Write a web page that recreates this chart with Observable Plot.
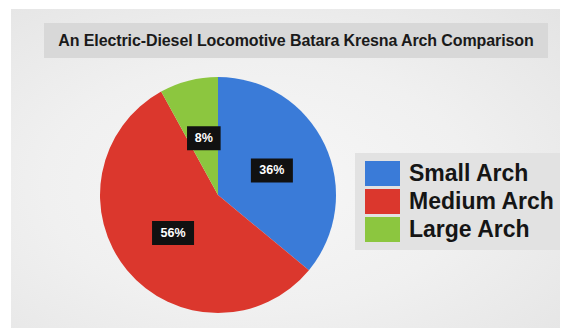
<!DOCTYPE html>
<html>
<head>
<meta charset="utf-8">
<script src="https://cdn.jsdelivr.net/npm/d3@7"></script>
<script src="https://cdn.jsdelivr.net/npm/@observablehq/plot@0.6"></script>
<style>
  html, body { margin: 0; padding: 0; background: #ffffff; }
  #frame { position: relative; width: 566px; height: 328px; overflow: hidden; background: #fff; font-family: "Liberation Sans", Arial, sans-serif; }
  #panel { position: absolute; left: 11px; top: 9px; width: 549px; height: 319px;
    background: radial-gradient(ellipse at 45% 55%, #f7f7f7 0%, #f0f0f0 50%, #e4e4e4 100%); }
  #title { position: absolute; left: 44px; top: 23px; width: 504px; height: 35px; background: #d8d8d8;
    display: flex; align-items: center; justify-content: center; font-weight: bold; font-size: 16px; color: #1a1a1a; white-space: nowrap; letter-spacing: -0.1px; }
  #legend { position: absolute; left: 355px; top: 153px; width: 205px; height: 97px; background: #e2e2e2; }
  .item { position: absolute; left: 10px; height: 25px; display: flex; align-items: center; }
  .sw { width: 35px; height: 25px; }
  .lab { margin-left: 9px; font-weight: bold; font-size: 23px; color: #151515; white-space: nowrap; }
  #chart { position: absolute; left: 0; top: 0; }
</style>
</head>
<body>
<div id="frame">
  <div id="panel"></div>
  <div id="title"></div>
  <div id="legend"></div>
  <div id="chart"></div>
</div>
<script>
const titleText = "An Electric-Diesel Locomotive Batara Kresna Arch Comparison";
const categories = ["Small Arch", "Medium Arch", "Large Arch"];
const shares = [36, 56, 8];
const colors = ["#3a7bd8", "#db372d", "#8cc63f"];

document.getElementById("title").textContent = titleText;

// legend
const legend = document.getElementById("legend");
categories.forEach((c, i) => {
  const item = document.createElement("div");
  item.className = "item";
  item.style.top = (8 + i * 28) + "px";
  const sw = document.createElement("div");
  sw.className = "sw";
  sw.style.background = colors[i];
  const lab = document.createElement("span");
  lab.className = "lab";
  lab.textContent = c;
  item.appendChild(sw);
  item.appendChild(lab);
  legend.appendChild(item);
});

const data = categories.map((c, i) => ({category: c, value: shares[i], label: shares[i] + "%"}));
const arcs = d3.pie().sort(null).value(d => d.value)(data);
const labels = arcs.map(a => {
  const [cx, cy] = d3.arc().innerRadius(0).outerRadius(1).centroid(a);
  // d3 arc: y down; flip to data space (y up)
  return {...a.data, x: cx, y: -cy};
});

function pieMark(index, scales) {
  const x0 = scales.x(0), y0 = scales.y(0);
  const r = scales.x(1) - scales.x(0);
  const arc = d3.arc().innerRadius(0).outerRadius(r);
  const g = d3.create("svg:g").attr("transform", `translate(${x0},${y0})`);
  g.selectAll("path").data(arcs).join("path")
    .attr("d", arc)
    .attr("fill", d => scales.color(d.data.category))
    .attr("stroke", "none");
  return g.node();
}

const wideBox = {draw(ctx, size) { const s = Math.sqrt(size / Math.PI); ctx.rect(-s * 1.75, -s, s * 3.5, s * 2); }};
const narrowBox = {draw(ctx, size) { const s = Math.sqrt(size / Math.PI); ctx.rect(-s * 1.4, -s, s * 2.8, s * 2); }};

const chart = Plot.plot({
  width: 566,
  height: 328,
  margin: 0,
  style: {background: "transparent", overflow: "visible"},
  x: {domain: [-1, 1], range: [100, 336], axis: null},
  y: {domain: [-1, 1], range: [313, 77], axis: null},
  color: {domain: categories, range: colors},
  marks: [
    pieMark,
    Plot.dot(labels.filter(d => d.label.length > 2), {x: "x", y: "y", r: 12, symbol: wideBox, fill: "#111", stroke: null}),
    Plot.dot(labels.filter(d => d.label.length <= 2), {x: "x", y: "y", r: 12, symbol: narrowBox, fill: "#111", stroke: null}),
    Plot.text(labels, {x: "x", y: "y", text: "label", fill: "white", fontWeight: "bold", fontSize: 12.5, fontFamily: "Liberation Sans, Arial, sans-serif"})
  ]
});
document.getElementById("chart").appendChild(chart);
</script>
</body>
</html>
